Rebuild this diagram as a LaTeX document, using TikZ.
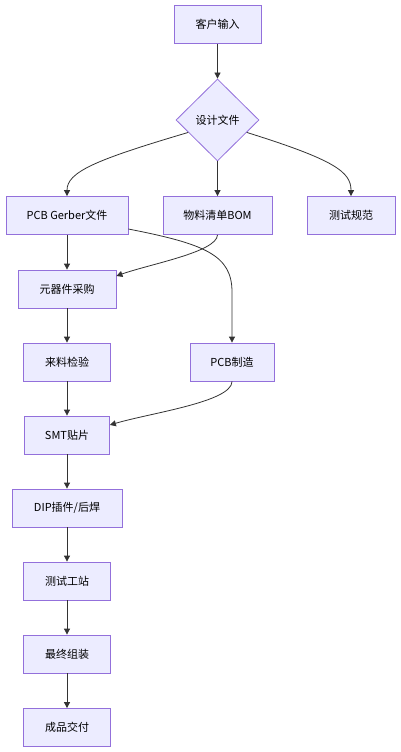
\documentclass[tikz,border=0pt]{standalone}
\usepackage{fontspec}
\newfontfamily\cjk{Noto Sans CJK SC}
\usetikzlibrary{shapes.geometric,arrows.meta}
\definecolor{nodefill}{HTML}{ECECFF}
\definecolor{nodeline}{HTML}{9370DB}
\definecolor{edgeline}{HTML}{333333}
\begin{document}
\begin{tikzpicture}[x=1pt,y=-1pt,
  box/.style={draw=nodeline,fill=nodefill,line width=0.8pt,minimum height=38pt,inner sep=0pt,font=\cjk\fontsize{11}{13}\selectfont},
  dia/.style={draw=nodeline,fill=nodefill,line width=0.8pt,shape=diamond,minimum width=83pt,minimum height=82pt,inner sep=0pt,font=\cjk\fontsize{11}{13}\selectfont},
  flow/.style={draw=edgeline,line width=0.8pt,-{Triangle[length=6pt,width=6pt]}}]
\useasboundingbox (0,0) rectangle (400,752);
\node[box,minimum width=87pt] (kh) at (217.5,24.5) {客户输入};
\node[dia] (sj) at (217.5,120) {设计文件};
\node[box,minimum width=122pt] (gb) at (67,215.5) {PCB Gerber文件};
\node[box,minimum width=109pt] (bom) at (217.5,215.5) {物料清单BOM};
\node[box,minimum width=88pt] (cs) at (351,215.5) {测试规范};
\node[box,minimum width=98pt] (cg) at (67,289) {元器件采购};
\node[box,minimum width=87pt] (ll) at (67,362) {来料检验};
\node[box,minimum width=84pt] (zz) at (232,362) {PCB制造};
\node[box,minimum width=85pt] (smt) at (67,435) {SMT贴片};
\node[box,minimum width=110pt] (dip) at (67,508) {DIP插件/后焊};
\node[box,minimum width=87pt] (gz) at (67,581) {测试工站};
\node[box,minimum width=87pt] (zj) at (67,654) {最终组装};
\node[box,minimum width=87pt] (jf) at (67,727.5) {成品交付};
\draw[flow] (kh.south) -- (sj.north);
\draw[flow] (sj.203) .. controls (95,160) and (67,172) .. (gb.north);
\draw[flow] (sj.south) -- (bom.north);
\draw[flow] (sj.337) .. controls (335,160) and (351,172) .. (cs.north);
\draw[flow] (gb.south) -- (cg.north);
\draw[flow] (bom.south) .. controls (217,252) and (150,264) .. (cg.east |- 0,276);
\draw[flow] (gb.east |- 0,229) .. controls (205,244) and (232,255) .. (232,292) -- (zz.north);
\draw[flow] (cg.south) -- (ll.north);
\draw[flow] (ll.south) -- (smt.north);
\draw[flow] (zz.south) .. controls (232,402) and (150,413) .. (smt.east |- 0,425);
\draw[flow] (smt.south) -- (dip.north);
\draw[flow] (dip.south) -- (gz.north);
\draw[flow] (gz.south) -- (zj.north);
\draw[flow] (zj.south) -- (jf.north);
\end{tikzpicture}
\end{document}
